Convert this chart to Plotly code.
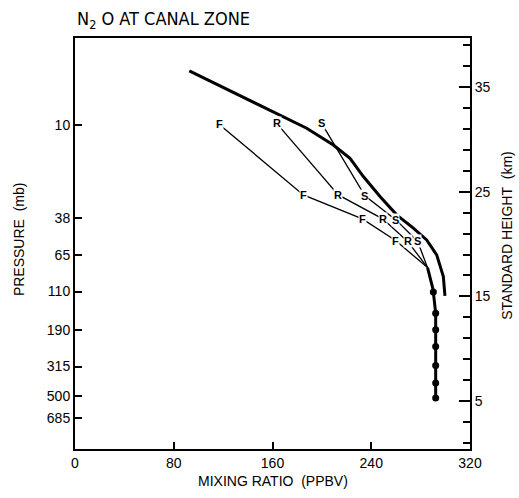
import plotly.graph_objects as go

# ---- data ----
# upper smooth profile (thick line)
upper_x = [92.6, 122.9, 160.7, 187.7, 209.3, 222.8, 233.6, 247.1, 260.6, 274.1, 284.9, 293.0, 298.4, 299.7]
upper_km = [36.54, 34.79, 32.65, 31.07, 29.47, 28.2, 26.45, 24.54, 22.79, 21.52, 20.40, 18.97, 16.9, 15.05]

# observed (lower) profile, thick line
obs_x = [285.6, 287.6, 289.8, 290.3, 292.2, 292.2, 292.2, 292.2, 292.2, 292.2]
obs_km = [17.75, 16.9, 15.8, 15.41, 13.40, 11.81, 10.21, 8.40, 6.72, 5.29]
dot_x = [290.3, 292.2, 292.2, 292.2, 292.2, 292.2, 292.2]
dot_km = [15.41, 13.40, 11.81, 10.21, 8.40, 6.72, 5.29]

# model profiles F, R, S (labelled points) converging at the observed profile
conv = (285.6, 17.75)
F_x = [116.9, 185.0, 232.8, 260.0]
F_km = [31.43, 24.70, 22.41, 20.31]
R_x = [163.4, 213.3, 249.3, 269.5]
R_km = [31.54, 24.70, 22.41, 20.25]
S_x = [199.8, 234.9, 260.0, 277.6]
S_km = [31.54, 24.61, 22.31, 20.25]

# axes
x_ticks = [0, 80, 160, 240, 320]
pressure_labels = ["10", "38", "65", "110", "190", "315", "500", "685"]
pressure_km = [31.38, 22.47, 18.97, 15.46, 11.81, 8.30, 5.44, 3.38]
height_ticks = [5, 15, 25, 35]
y_range = [0.42, 39.69]
x_range = [0, 320]

FONT = "Liberation Sans, Arial, sans-serif"

fig = go.Figure()

for xs, ks in [(F_x, F_km), (R_x, R_km), (S_x, S_km)]:
    fig.add_trace(go.Scatter(x=xs + [conv[0]], y=ks + [conv[1]], mode="lines",
                             line=dict(color="black", width=1.3), showlegend=False,
                             hoverinfo="skip"))

fig.add_trace(go.Scatter(x=upper_x, y=upper_km, mode="lines",
                         line=dict(color="black", width=3), showlegend=False))
fig.add_trace(go.Scatter(x=obs_x, y=obs_km, mode="lines",
                         line=dict(color="black", width=3), showlegend=False))
fig.add_trace(go.Scatter(x=dot_x, y=dot_km, mode="markers",
                         marker=dict(color="black", size=7), showlegend=False))
fig.add_trace(go.Scatter(x=[None], y=[None], yaxis="y2", showlegend=False))

annotations = []
for letter, xs, ks in [("F", F_x, F_km), ("R", R_x, R_km), ("S", S_x, S_km)]:
    for xv, kv in zip(xs, ks):
        annotations.append(dict(x=xv, y=kv, xref="x", yref="y", text="<b>%s</b>" % letter,
                                showarrow=False, bgcolor="white", borderpad=0,
                                font=dict(family=FONT, size=11, color="black")))

annotations.append(dict(xref="paper", yref="paper", x=0, y=1.044, xanchor="left", yanchor="middle",
                        text="N<sub>2</sub> O AT CANAL ZONE", showarrow=False,
                        font=dict(family="Liberation Sans Narrow, DejaVu Sans Condensed, sans-serif",
                                  size=18, color="black")))
annotations.append(dict(xref="paper", yref="paper", x=-0.14, y=0.51, xanchor="center", yanchor="middle",
                        text="PRESSURE\u00a0 (mb)", textangle=-90, showarrow=False,
                        font=dict(family=FONT, size=14, color="black")))
annotations.append(dict(xref="paper", yref="paper", x=1.095, y=0.52, xanchor="center", yanchor="middle",
                        text="STANDARD HEIGHT\u00a0 (km)", textangle=-90, showarrow=False,
                        font=dict(family=FONT, size=14, color="black")))
annotations.append(dict(xref="paper", yref="paper", x=0.5, y=-0.078, xanchor="center", yanchor="middle",
                        text="MIXING RATIO\u00a0 (PPBV)", showarrow=False,
                        font=dict(family=FONT, size=14, color="black")))

fig.update_layout(
    width=519, height=498,
    margin=dict(l=75, r=49, t=38, b=49),
    paper_bgcolor="white", plot_bgcolor="white",
    font=dict(family=FONT, size=14, color="black"),
    annotations=annotations,
    xaxis=dict(range=x_range, tickvals=x_ticks, ticktext=[str(v) for v in x_ticks],
               ticks="inside", ticklen=7, tickwidth=1.5, tickcolor="black",
               showline=True, linewidth=2, linecolor="black", mirror=True,
               showgrid=False, zeroline=False, tickfont=dict(size=14)),
    yaxis=dict(range=y_range, tickvals=pressure_km, ticktext=pressure_labels,
               ticks="inside", ticklen=7, tickwidth=1.5, tickcolor="black",
               showline=True, linewidth=2, linecolor="black",
               showgrid=False, zeroline=False, tickfont=dict(size=14)),
    yaxis2=dict(range=y_range, overlaying="y", side="right",
                tickvals=height_ticks, ticktext=[str(v) for v in height_ticks],
                ticks="inside", ticklen=11, tickwidth=1.5, tickcolor="black",
                minor=dict(tickmode="linear", tick0=1, dtick=2, ticks="inside", ticklen=7,
                           tickwidth=1.5, tickcolor="black"),
                showline=True, linewidth=2, linecolor="black",
                showgrid=False, zeroline=False, tickfont=dict(size=14)),
)

fig.write_html("out.html")
